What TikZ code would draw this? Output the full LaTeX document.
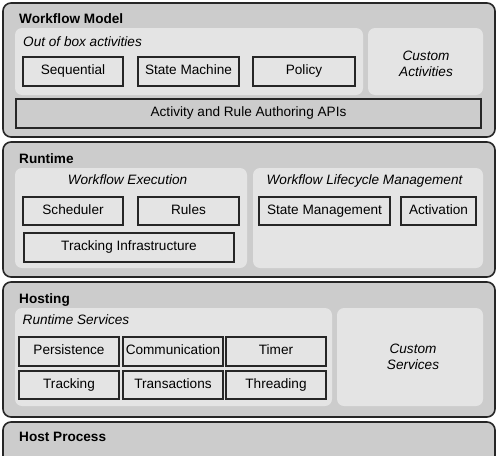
\documentclass[tikz,border=0pt]{standalone}
\usepackage{fontspec}
\setmainfont{Liberation Sans}
\begin{document}
\begin{tikzpicture}[x=1pt,y=-1pt,
  panel/.style={fill=panelgray,draw=edgegray,line width=1.6pt,rounded corners=8pt},
  region/.style={fill=regiongray,rounded corners=7pt},
  box/.style={draw=edgegray,line width=1.6pt,inner sep=0pt,text height=9.8pt,text depth=2.9pt,font=\fontsize{13.6}{16}\selectfont},
  ttl/.style={anchor=base west,inner sep=0pt,font=\fontsize{13.6}{16}\selectfont\bfseries},
  sub/.style={inner sep=0pt,font=\fontsize{13.6}{16}\selectfont\itshape},
  cust/.style={inner sep=0pt,align=center,font=\fontsize{13.6}{16}\selectfont\itshape}]
\definecolor{panelgray}{HTML}{CCCCCC}
\definecolor{regiongray}{HTML}{E4E4E4}
\definecolor{edgegray}{HTML}{262626}
\useasboundingbox (0,0) rectangle (500,455);
\clip (0,0) rectangle (500,455);
% panels
\draw[panel] (3,3) rectangle (495,137);
\draw[panel] (3,142) rectangle (495,277);
\draw[panel] (3,282) rectangle (495,417);
\draw[panel] (3,422) rectangle (495,480);
% regions
\fill[region] (15,28) rectangle (363,95);
\fill[region] (368,28) rectangle (483,95);
\fill[region] (15,168) rectangle (247,268);
\fill[region] (253,168) rectangle (483,268);
\fill[region] (15,308) rectangle (332,406);
\fill[region] (337,308) rectangle (483,406);
% titles
\node[ttl] (t1) at (19,23) {Workflow Model};
\node[ttl] (t2) at (19,163) {Runtime};
\node[ttl] (t3) at (19,303) {Hosting};
\node[ttl] (t4) at (19,441) {Host Process};
% sub titles
\node[sub,anchor=base west] (s1) at (23,46) {Out of box activities};
\node[sub,anchor=base] (s2) at (127.5,184.5) {Workflow Execution};
\node[sub,anchor=base] (s3) at (364.5,184.5) {Workflow Lifecycle Management};
\node[sub,anchor=base west] (s4) at (22.5,324.5) {Runtime Services};
\node[cust] (ca) at (426,64) {Custom\\Activities};
\node[cust] (cs) at (413,356.5) {Custom\\Services};
% workflow model boxes
\node[box,minimum width=100pt,minimum height=29pt] (seq) at (73,71.5) {Sequential};
\node[box,minimum width=101pt,minimum height=29pt] (sm) at (188.5,71.5) {State Machine};
\node[box,minimum width=102pt,minimum height=29pt] (pol) at (304,71.5) {Policy};
\node[box,minimum width=465pt,minimum height=29pt] (api) at (248.5,113.5) {Activity and Rule Authoring APIs};
% runtime boxes
\node[box,minimum width=100pt,minimum height=28pt] (sched) at (73,211) {Scheduler};
\node[box,minimum width=101pt,minimum height=28pt] (rules) at (188.5,211) {Rules};
\node[box,minimum width=210pt,minimum height=29pt] (track) at (129,247.5) {Tracking Infrastructure};
\node[box,minimum width=131pt,minimum height=28pt] (stm) at (324.5,211) {State Management};
\node[box,minimum width=75pt,minimum height=28pt] (act) at (438.5,211) {Activation};
% hosting boxes
\node[box,minimum width=100pt,minimum height=29pt] (pers) at (69,351.5) {Persistence};
\node[box,minimum width=100pt,minimum height=29pt] (comm) at (173,351.5) {Communication};
\node[box,minimum width=100pt,minimum height=29pt] (timer) at (276,351.5) {Timer};
\node[box,minimum width=100pt,minimum height=28pt] (trk) at (69,385) {Tracking};
\node[box,minimum width=100pt,minimum height=28pt] (trans) at (173,385) {Transactions};
\node[box,minimum width=100pt,minimum height=28pt] (thr) at (276,385) {Threading};
\end{tikzpicture}
\end{document}
